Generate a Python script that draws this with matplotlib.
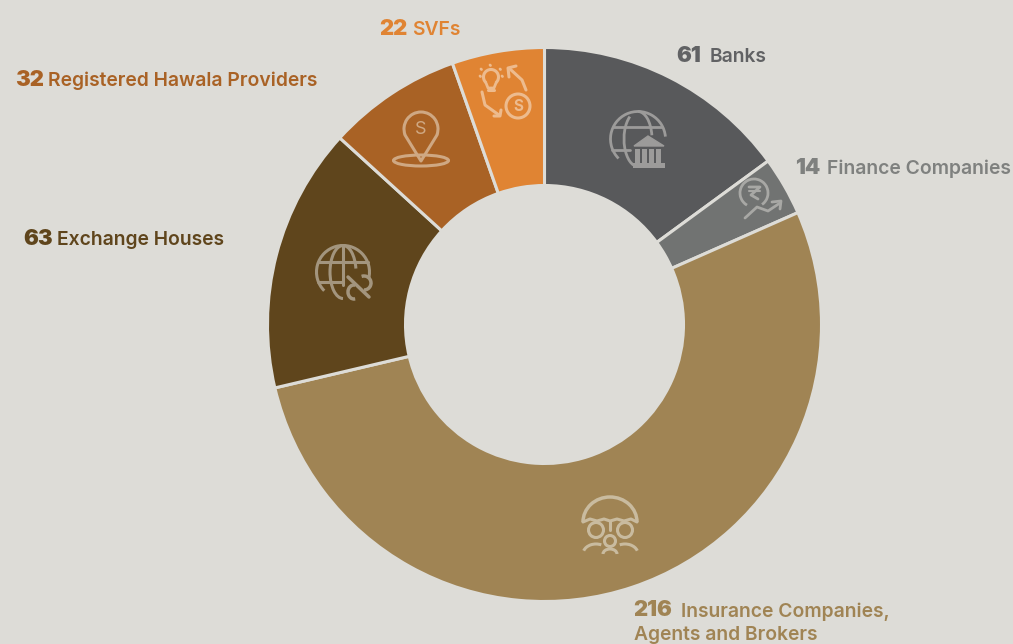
import matplotlib
matplotlib.use("Agg")
import matplotlib.pyplot as plt
from matplotlib.patches import Circle, Arc, Ellipse, Polygon, Rectangle

categories = ["Banks", "Finance Companies", "Insurance Companies,\nAgents and Brokers",
              "Exchange Houses", "Registered Hawala Providers", "SVFs"]
values = [61, 14, 216, 63, 32, 22]
colors = ["#58595b", "#717372", "#a08454", "#5f451c", "#a96225", "#e08433"]
label_colors = ["#616264", "#7f817f", "#a08454", "#5f451c", "#a96225", "#e08433"]
icon_colors = ["#9c9b9a", "#a8a8a5", "#c9bb9f", "#a3957e", "#cfa883", "#edbb8e"]
label_pos = [(676, 55.5), (795, 167.5), (633, 610.5), (23, 238.5), (15, 79.5), (379, 28.5)]
name_x = [710, 827, 681, 57, 48, 412]
bg = "#dddcd7"

plt.rcParams["font.family"] = ["Inter", "DejaVu Sans"]
fig = plt.figure(figsize=(10.13, 6.44), dpi=100, facecolor=bg)
ax = fig.add_axes([0, 0, 1, 1])

# y axis runs downward, so counterclock=True gives clockwise on screen
ax.pie(values, colors=colors, center=(544.5, 324.5), radius=277, startangle=-90, counterclock=True,
       wedgeprops=dict(width=138, edgecolor=bg, linewidth=2.2), frame=True)
ax.set_xlim(0, 1013)
ax.set_ylim(644, 0)
ax.axis("off")

# labels: heavy number then medium text
for n, c, col, (x, y), nx in zip(values, categories, label_colors, label_pos, name_x):
    ax.text(x, y, str(n), color=col, fontsize=15.8, fontweight="black", va="center", ha="left")
    lines = c.split("\n")
    ax.text(nx, y + 1, lines[0], color=col, fontsize=13.9, fontweight="semibold", va="center", ha="left")
    if len(lines) > 1:
        ax.text(x + 1, y + 25, lines[1], color=col, fontsize=13.9, fontweight="semibold", va="center", ha="left")


def line(pts, col, lw=1.8):
    xs, ys = zip(*pts)
    ax.plot(xs, ys, color=col, lw=lw, solid_capstyle="round", solid_joinstyle="round")


def circ(x, y, rad, col, lw=1.8):
    ax.add_patch(Circle((x, y), rad, fill=False, ec=col, lw=lw))


def arc(x, y, w, h, a1, a2, col, lw=1.8):
    ax.add_patch(Arc((x, y), w, h, theta1=a1, theta2=a2, ec=col, lw=lw))


# banks icon
c = icon_colors[0]
arc(638, 139, 55, 55, 135, 355, c, 2.0)
arc(638, 139, 28, 55, 90, 250, c, 2.0)
arc(638, 139, 28, 55, 270, 345, c, 2.0)
line([(613, 127), (662, 127)], c, 2.0)
line([(612, 150), (630, 150)], c, 2.0)
ax.add_patch(Polygon([(634, 146), (648, 136), (664, 146)], closed=True, fc=c, ec=c))
for px in [637, 644, 651, 658]:
    ax.add_patch(Rectangle((px - 2, 149), 4.5, 14, fc=c, ec="none"))
ax.add_patch(Rectangle((633, 163), 32, 4.5, fc=c, ec="none"))

# finance icon
c = icon_colors[1]
arc(754, 193, 28, 28, 120, 55, c, 2.0)
line([(749, 187), (760, 187), (751, 195), (758, 199)], c, 2.0)
line([(749, 191), (760, 191)], c, 1.5)
line([(745, 218), (757, 207), (768, 211), (780, 203)], c, 2.0)
line([(772, 202), (781, 201), (780, 209)], c, 2.0)

# insurance icon
c = icon_colors[2]
arc(610, 522, 54, 50, 180, 360, c, 2.5)
line([(583, 522), (590, 519), (597, 521), (604, 519), (610, 521), (617, 519), (624, 521), (631, 519), (637, 522)], c, 2.2)
line([(610, 521), (610, 530)], c, 2.2)
circ(596, 530, 7.5, c, 2.2)
circ(625, 530, 7.5, c, 2.2)
circ(610, 541, 5.5, c, 2.2)
arc(596, 554, 26, 20, 195, 300, c, 2.2)
arc(625, 554, 26, 20, 240, 345, c, 2.2)
arc(610, 554, 14, 10, 180, 360, c, 2.2)

# exchange icon
c = icon_colors[3]
arc(343, 272, 53, 53, 135, 15, c, 2.2)
arc(343, 272, 26, 53, 90, 270, c, 2.2)
arc(343, 272, 26, 53, 270, 345, c, 2.2)
line([(319, 262), (368, 262)], c, 2.2)
line([(318, 282), (343, 282)], c, 2.2)
line([(343, 246), (343, 285)], c, 2.2)
line([(348, 277), (369, 297)], c, 2.5)
arc(364, 283, 14, 14, 250, 90, c, 2.5)
arc(354, 292, 12, 14, 80, 280, c, 2.5)

# hawala icon
c = icon_colors[4]
arc(421, 129, 34, 34, 160, 20, c, 2.2)
line([(405, 135), (421, 161), (437, 135)], c, 2.2)
ax.text(421, 129, "S", color=c, fontsize=13, ha="center", va="center")
ax.add_patch(Ellipse((421, 160.5), 55, 11, fill=False, ec=c, lw=2.2))

# svf icon
c = icon_colors[5]
arc(491, 77, 15, 15, 130, 50, c, 2.2)
line([(486, 83), (488, 88), (494, 88), (496, 83)], c, 2.0)
line([(488, 90), (494, 90)], c, 2.2)
for p in [(481, 69), (490, 65), (500, 69), (480, 76), (502, 76)]:
    line([p, (p[0] + 0.5, p[1] + 0.5)], c, 2.0)
circ(518, 106, 12, c, 2.2)
ax.text(518, 106, "S", color=c, fontsize=11, fontweight="bold", ha="center", va="center")
line([(526, 90), (522, 80), (510, 69)], c, 2.2)
line([(509, 77), (508, 68), (516, 66)], c, 2.2)
line([(482, 92), (485, 105), (499, 115)], c, 2.2)
line([(494, 116), (500, 116), (501, 110)], c, 2.2)

fig.savefig("out.png", dpi=100, facecolor=bg)
